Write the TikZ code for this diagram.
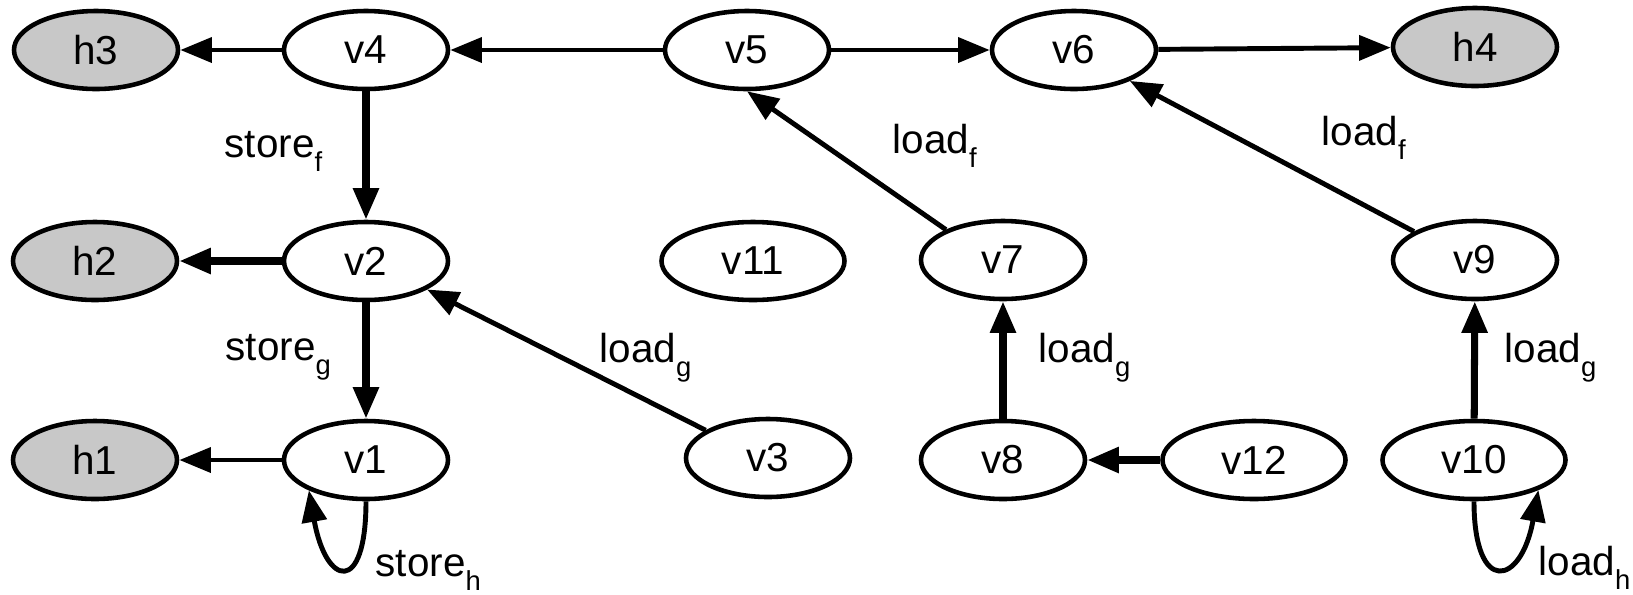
\documentclass[tikz,border=0pt]{standalone}
\usepackage{fontspec}
\setmainfont{Liberation Sans}
\usetikzlibrary{shapes.geometric, arrows.meta}

\definecolor{heapgray}{RGB}{200,200,200}
% operation name with a lowered field subscript
\newcommand{\opname}[2]{#1\raisebox{-4.2pt}{\fontsize{7.8}{9}\selectfont #2}}

\begin{document}
\begin{tikzpicture}[
		var/.style={ellipse, draw=black, line width=1.3pt, minimum width=1.64cm, minimum height=0.78cm, inner sep=0pt, font=\fontsize{11.5}{13}\selectfont},
		wide var/.style={var, minimum width=1.83cm},
		heap/.style={var, fill=heapgray},
		edge/.style={-{Triangle[length=9pt,width=7pt]}, line width=1.4pt},
		heavy edge/.style={edge, line width=2pt},
		lbl/.style={anchor=base west, inner sep=0pt, font=\fontsize{11.5}{13}\selectfont}
		]
		\useasboundingbox (0,0) rectangle (16.33,-5.94);
		
		% ---------------------------------------------------------
		% Heap objects
		% ---------------------------------------------------------
		\node[heap] (h3) at (0.96,-0.50) {h3};
		\node[heap] (h2) at (0.95,-2.61) {h2};
		\node[heap] (h1) at (0.95,-4.60) {h1};
		\node[heap] (h4) at (14.75,-0.47) {h4};
		
		% ---------------------------------------------------------
		% Variables
		% ---------------------------------------------------------
		\node[var] (v4) at (3.66,-0.50) {v4};
		\node[var] (v5) at (7.47,-0.50) {v5};
		\node[var] (v6) at (10.74,-0.50) {v6};
		\node[var] (v2) at (3.66,-2.61) {v2};
		\node[wide var] (v11) at (7.53,-2.61) {v11};
		\node[var] (v7) at (10.03,-2.60) {v7};
		\node[var] (v9) at (14.75,-2.60) {v9};
		\node[var] (v1) at (3.66,-4.60) {v1};
		\node[var] (v3) at (7.68,-4.58) {v3};
		\node[var] (v8) at (10.03,-4.60) {v8};
		\node[wide var] (v12) at (12.54,-4.60) {v12};
		\node[wide var] (v10) at (14.74,-4.60) {v10};
		
		% ---------------------------------------------------------
		% Points-to and flow edges
		% ---------------------------------------------------------
		\draw[edge] (v4) -- (h3);
		\draw[edge] (v5) -- (v4);
		\draw[edge] (v5) -- (v6);
		\draw[edge] (v6) -- (h4);
		\draw[heavy edge] (v4) -- (v2);
		\draw[heavy edge] (v2) -- (h2);
		\draw[heavy edge] (v2) -- (v1);
		\draw[edge] (v1) -- (h1);
		\draw[edge] (v3.156) -- (v2.-25);
		\draw[edge] (v7.152) -- (v5.south);
		\draw[edge] (v9.155) -- (v6.-29);
		\draw[heavy edge] (v8) -- (v7);
		\draw[heavy edge] (v12) -- (v8);
		\draw[heavy edge] (v10) -- (v9);
		
		% self loops
		\draw[edge] (v1.270) .. controls +(0,-0.95) and +(0.17,-0.96) .. (v1.208);
		\draw[edge] (v10.270) .. controls +(0,-0.95) and +(-0.17,-0.96) .. (v10.-25);
		
		% ---------------------------------------------------------
		% Edge labels
		% ---------------------------------------------------------
		\node[lbl] (lsf) at (2.24,-1.57) {\opname{store}{f}};
		\node[lbl] (lsg) at (2.25,-3.60) {\opname{store}{g}};
		\node[lbl] (lsh) at (3.75,-5.76) {\opname{store}{h}};
		\node[lbl] (lg1) at (5.99,-3.62) {\opname{load}{g}};
		\node[lbl] (lf1) at (8.92,-1.53) {\opname{load}{f}};
		\node[lbl] (lf2) at (13.21,-1.45) {\opname{load}{f}};
		\node[lbl] (lg2) at (10.38,-3.62) {\opname{load}{g}};
		\node[lbl] (lg3) at (15.04,-3.62) {\opname{load}{g}};
		\node[lbl] (lh) at (15.38,-5.75) {\opname{load}{h}};
		
	\end{tikzpicture}
\end{document}
